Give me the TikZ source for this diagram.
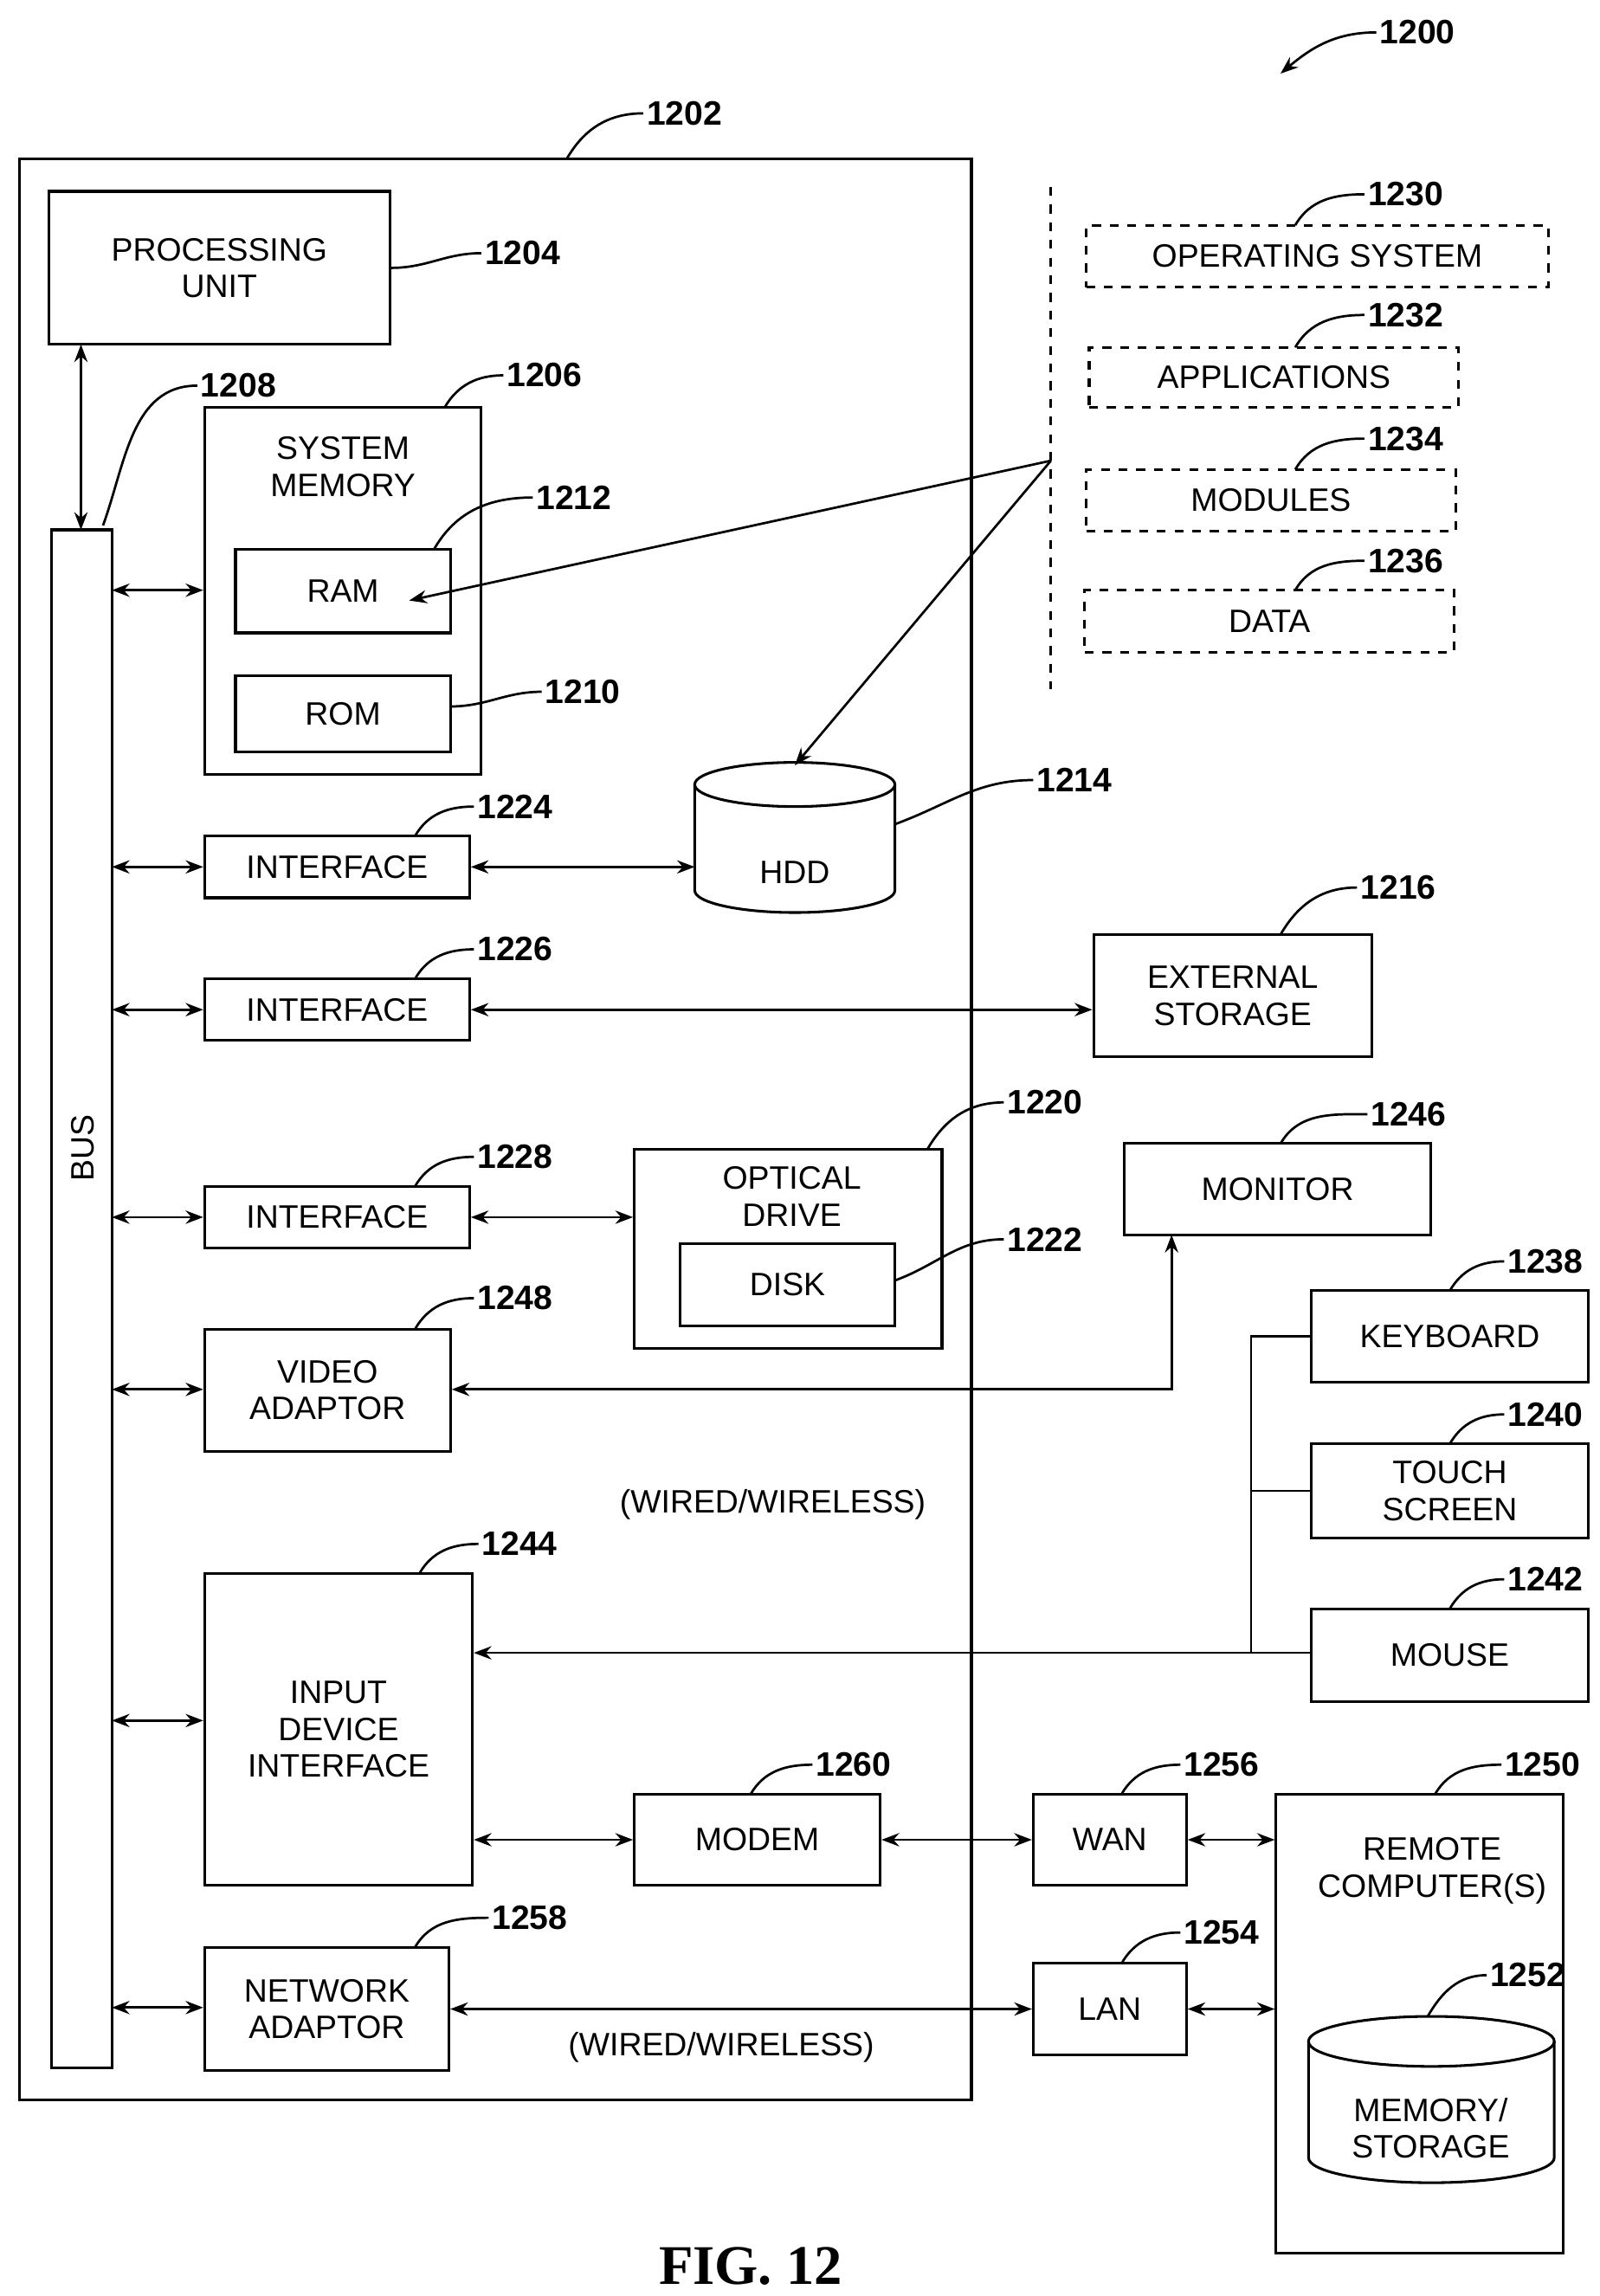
\documentclass[tikz,border=0pt]{standalone}
\usepackage{fontspec}
\setmainfont{Liberation Sans}
\newfontfamily\figfont{Liberation Serif}
\usetikzlibrary{arrows.meta}
\begin{document}
\begin{tikzpicture}[x=0.5pt,y=-0.5pt,
  box/.style={draw,line width=0.9pt,inner sep=0pt,align=center,font=\fontsize{11}{12.5}\selectfont},
  dbox/.style={box,dashed},
  lbl/.style={font=\bfseries\fontsize{11.5}{12}\selectfont,inner sep=1pt},
  lead/.style={line width=0.8pt},
  arr/.style={line width=0.8pt,{Stealth[length=6pt,width=4.5pt]}-{Stealth[length=6pt,width=4.5pt]}},
  sarr/.style={line width=0.8pt,-{Stealth[length=6pt,width=4.5pt]}},
  txt/.style={font=\fontsize{11}{12.5}\selectfont,align=center,inner sep=0pt}]
\useasboundingbox (0,0) rectangle (1086.5,1560);
\newcommand\bx[7][box]{\node[#1,minimum width={(#5-#3)*0.5pt},minimum height={(#6-#4)*0.5pt}] (#2) at ({(#3+#5)/2},{(#4+#6)/2}) {#7};}
% outer
\bx{comp}{13}{108}{660}{1427}{}
\node[lbl] (l1202) at (465,77) {1202};
\draw[lead] (385,108) to[out=60,in=180] (l1202.west);
\node[lbl] (l1200) at (963,22) {1200};
\coordinate (a1200) at (870,50);
\draw[sarr] (l1200.west) to[out=180,in=40] (a1200);
% processing
\bx{pu}{33}{130}{265}{234}{PROCESSING\\UNIT}
\node[lbl] (l1204) at (355,172) {1204};
\draw[lead] (pu.east|-0,182) to[out=0,in=180] (l1204.west);
% bus
\bx{bus}{35}{360}{76}{1405}{}
\node[txt,rotate=90] (bust) at (56,780) {BUS};
\draw[arr] (55,234) -- (55,360);
\node[lbl] (l1208) at (162,262) {1208};
\draw[lead] (70,357) to[out=70,in=180] (l1208.west);
% system memory
\bx{sm}{139}{277}{327}{526}{}
\node[txt] (smt) at (233,317) {SYSTEM\\MEMORY};
\node[lbl] (l1206) at (370,255) {1206};
\draw[lead] (302,277) to[out=60,in=180] (l1206.west);
\bx{ram}{160}{373}{306}{430}{RAM}
\node[lbl] (l1212) at (390,338) {1212};
\draw[lead] (295,373) to[out=60,in=180] (l1212.west);
\bx{rom}{160}{459}{306}{511}{ROM}
\node[lbl] (l1210) at (396,470) {1210};
\draw[lead] (306,480) to[out=0,in=180] (l1210.west);
% HDD
\coordinate (hddtop) at (540,520);
\draw[line width=0.9pt] (472,533) -- (472,605) arc[start angle=180,end angle=0,x radius=68,y radius=15] -- (608,533);
\draw[line width=0.9pt] (540,533) ellipse[x radius=68,y radius=15];
\node[txt] (hdd) at (540,593) {HDD};
\node[lbl] (l1214) at (730,530) {1214};
\draw[lead] (608,560) to[out=20,in=180] (l1214.west);
% interfaces
\bx{if1}{139}{568}{319}{610}{INTERFACE}
\node[lbl] (l1224) at (350,548) {1224};
\draw[lead] (282,568) to[out=60,in=180] (l1224.west);
\draw[arr] (if1.east) -- (472,589);
\bx{if2}{139}{665}{319}{707}{INTERFACE}
\node[lbl] (l1226) at (350,645) {1226};
\draw[lead] (282,665) to[out=60,in=180] (l1226.west);
\bx{ext}{743}{635}{932}{718}{EXTERNAL\\STORAGE}
\node[lbl] (l1216) at (950,603) {1216};
\draw[lead] (870,635) to[out=60,in=180] (l1216.west);
\draw[arr] (if2.east) -- (ext.west|-if2.east);
\bx{if3}{139}{806}{319}{848}{INTERFACE}
\node[lbl] (l1228) at (350,786) {1228};
\draw[lead] (282,806) to[out=60,in=180] (l1228.west);
\bx{od}{431}{781}{640}{916}{}
\node[txt] (odt) at (538,813) {OPTICAL\\DRIVE};
\node[lbl] (l1220) at (710,749) {1220};
\draw[lead] (630,781) to[out=60,in=180] (l1220.west);
\bx{disk}{462}{845}{608}{901}{DISK}
\node[lbl] (l1222) at (710,842) {1222};
\draw[lead] (608,870) to[out=20,in=180] (l1222.west);
\draw[arr] (if3.east) -- (od.west|-if3.east);
% video
\bx{va}{139}{903}{306}{986}{VIDEO\\ADAPTOR}
\node[lbl] (l1248) at (350,882) {1248};
\draw[lead] (282,903) to[out=60,in=180] (l1248.west);
\bx{mon}{764}{777}{972}{839}{MONITOR}
\node[lbl] (l1246) at (957,757) {1246};
\draw[lead] (870,777) to[out=60,in=180] (l1246.west);
\draw[arr] (va.east|-0,944) -- (796,944) -- (796,839);
\node[txt] (ww1) at (525,1022) {(WIRED/WIRELESS)};
% input
\bx{idi}{139}{1069}{321}{1281}{INPUT\\DEVICE\\INTERFACE}
\node[lbl] (l1244) at (353,1049) {1244};
\draw[lead] (285,1069) to[out=60,in=180] (l1244.west);
\bx{kb}{891}{877}{1079}{939}{KEYBOARD}
\node[lbl] (l1238) at (1050,857) {1238};
\draw[lead] (985,877) to[out=60,in=180] (l1238.west);
\bx{ts}{891}{981}{1079}{1045}{TOUCH\\SCREEN}
\node[lbl] (l1240) at (1050,961) {1240};
\draw[lead] (985,981) to[out=60,in=180] (l1240.west);
\bx{mouse}{891}{1093}{1079}{1156}{MOUSE}
\node[lbl] (l1242) at (1050,1073) {1242};
\draw[lead] (985,1093) to[out=60,in=180] (l1242.west);
\draw[line width=0.8pt] (kb.west|-0,908) -- (850,908) -- (850,1123);
\draw[line width=0.8pt] (ts.west) -- (850,1013);
\draw[sarr] (mouse.west|-0,1123) -- (idi.east|-0,1123);
% modem etc
\bx{modem}{431}{1219}{598}{1281}{MODEM}
\node[lbl] (l1260) at (580,1199) {1260};
\draw[lead] (510,1219) to[out=60,in=180] (l1260.west);
\draw[arr] (idi.east|-modem.west) -- (modem.west);
\bx{wan}{702}{1219}{806}{1281}{WAN}
\node[lbl] (l1256) at (830,1199) {1256};
\draw[lead] (762,1219) to[out=60,in=180] (l1256.west);
\draw[arr] (modem.east) -- (wan.west);
\bx{rc}{867}{1219}{1062}{1531}{}
\node[txt] (rct) at (973,1271) {REMOTE\\COMPUTER(S)};
\node[lbl] (l1250) at (1048,1199) {1250};
\draw[lead] (975,1219) to[out=60,in=180] (l1250.west);
\draw[arr] (wan.east) -- (rc.west|-wan.east);
\draw[line width=0.9pt] (889,1387) -- (889,1466) arc[start angle=180,end angle=0,x radius=83.5,y radius=17] -- (1056,1387);
\draw[line width=0.9pt] (972.5,1387) ellipse[x radius=83.5,y radius=17];
\node[txt] (mst) at (972,1446) {MEMORY/\\STORAGE};
\node[lbl] (l1252) at (1038,1342) {1252};
\draw[lead] (970,1370) to[out=60,in=180] (l1252.west);
\bx{lan}{702}{1334}{806}{1396}{LAN}
\node[lbl] (l1254) at (830,1313) {1254};
\draw[lead] (762,1334) to[out=60,in=180] (l1254.west);
\draw[arr] (lan.east) -- (rc.west|-lan.east);
\bx{na}{139}{1323}{305}{1407}{NETWORK\\ADAPTOR}
\node[lbl] (l1258) at (360,1303) {1258};
\draw[lead] (282,1323) to[out=60,in=180] (l1258.west);
\draw[arr] (na.east|-lan.west) -- (lan.west);
\node[txt] (ww2) at (490,1391) {(WIRED/WIRELESS)};
% bus arrows
\foreach \y/\n in {401/sm,589/if1,686/if2,827/if3,944/va,1169/idi,1364/na}
  \draw[arr] (76,\y) -- (\n.west|-0,\y);
% software
\draw[line width=0.8pt,dashed] (714,127) -- (714,468);
\coordinate (sw) at (714,313);
\draw[sarr] (sw) -- (278,408);
\draw[sarr] (sw) -- (hddtop);
\bx[dbox]{os}{738}{153}{1052}{195}{OPERATING SYSTEM}
\node[lbl] (l1230) at (955,132) {1230};
\draw[lead] (880,153) to[out=60,in=180] (l1230.west);
\bx[dbox]{app}{740}{236}{991}{277}{APPLICATIONS}
\node[lbl] (l1232) at (955,214) {1232};
\draw[lead] (880,236) to[out=60,in=180] (l1232.west);
\bx[dbox]{mod}{738}{319}{989}{361}{MODULES}
\node[lbl] (l1234) at (955,298) {1234};
\draw[lead] (880,319) to[out=60,in=180] (l1234.west);
\bx[dbox]{data}{737}{401}{988}{443}{DATA}
\node[lbl] (l1236) at (955,381) {1236};
\draw[lead] (880,401) to[out=60,in=180] (l1236.west);
\node[font=\figfont\bfseries\fontsize{19}{20}\selectfont] (fig) at (510,1540) {FIG. 12};
\end{tikzpicture}
\end{document}
